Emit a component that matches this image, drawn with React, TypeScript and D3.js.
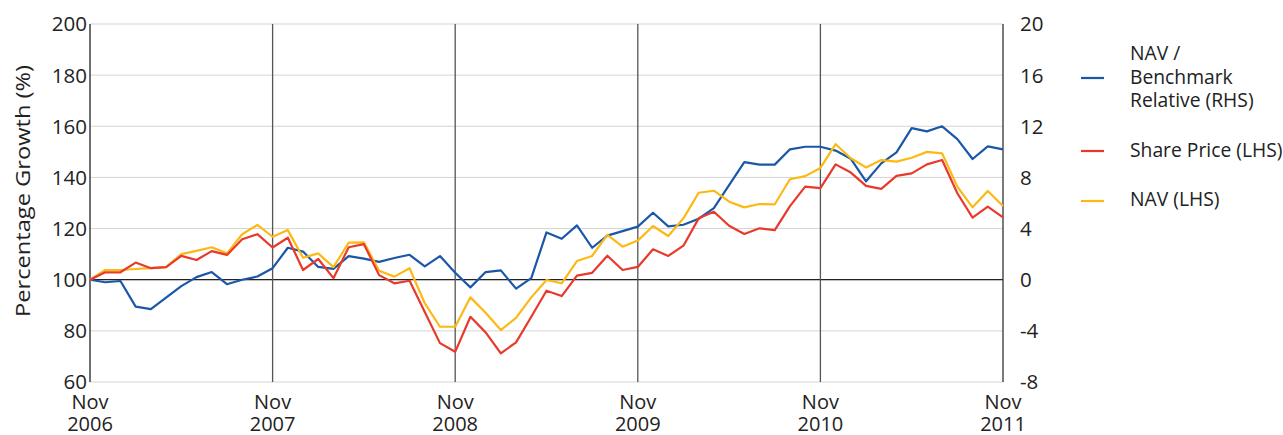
import React from "react";
import * as d3 from "d3";

const xLabels = ["Nov\n2006", "Nov\n2007", "Nov\n2008", "Nov\n2009", "Nov\n2010", "Nov\n2011"];
const leftTicks = [60, 80, 100, 120, 140, 160, 180, 200];
const rightTicks = [-8, -4, 0, 4, 8, 12, 16, 20];

// Monthly values, Nov 2006 .. Nov 2011 (61 points)
const relative = [
  0, -0.2, -0.1, -2.1, -2.3, -1.4, -0.5, 0.2, 0.6, -0.35, 0, 0.25, 0.9,
  2.5, 2.2, 1.0, 0.85, 1.85, 1.65, 1.4, 1.7, 1.95, 1.05, 1.85, 0.55,
  -0.6, 0.6, 0.73, -0.7, 0.13, 3.7, 3.2, 4.25, 2.5, 3.45, 3.8, 4.15,
  5.24, 4.17, 4.3, 4.77, 5.6, 7.4, 9.2, 9.0, 9.0, 10.2, 10.4, 10.4,
  10.1, 9.46, 7.7, 9.1, 9.96, 11.86, 11.6, 12.0, 11.0, 9.44, 10.43, 10.2,
];
const sharePrice = [
  100, 102.9, 102.9, 106.7, 104.5, 104.9, 109.3, 107.7, 111.2, 109.7, 115.8, 117.8, 112.6,
  116.4, 103.8, 108.1, 100.6, 112.7, 113.9, 101.8, 98.6, 99.6, 87.4, 75.2, 71.8,
  85.5, 79.4, 71.2, 75.5, 85.5, 95.7, 93.6, 101.6, 102.7, 109.4, 103.8, 105.0,
  111.9, 109.3, 113.3, 124, 126.6, 121.1, 117.9, 120.1, 119.4, 128.8, 136.4, 135.8,
  145.1, 141.9, 136.7, 135.5, 140.6, 141.6, 145.1, 146.8, 133.8, 124.3, 128.6, 124.4,
];
const nav = [
  100, 103.8, 103.8, 104.2, 104.5, 104.9, 110, 111.3, 112.7, 110.3, 117.8, 121.4, 116.8,
  119.4, 108.6, 110.3, 104.9, 114.5, 114.6, 103.5, 101.2, 104.5, 90.8, 81.6, 81.6,
  93.1, 87.1, 80.3, 85.1, 93.1, 99.9, 98.6, 107.3, 109.3, 117.5, 112.9, 115.3,
  121, 117.1, 124, 134, 134.8, 130.5, 128.3, 129.6, 129.5, 139.3, 140.5, 143.7,
  153, 147.5, 143.9, 146.8, 146.2, 147.7, 150, 149.4, 136.4, 128.3, 134.7, 128.8,
];

const seriesNames = ["NAV /\nBenchmark\nRelative (RHS)", "Share Price (LHS)", "NAV (LHS)"];

const BLUE = "#1b57a8";
const RED = "#e8392b";
const YELLOW = "#fdb913";
const FONT = "'Open Sans', sans-serif";

export default function App() {
  const W = 1283, H = 435;
  const left = 90, right = 1003, top = 24, bottom = 382;
  const x = d3.scaleLinear().domain([0, 60]).range([left, right]);
  const yL = d3.scaleLinear().domain([60, 200]).range([bottom, top]);
  const yR = d3.scaleLinear().domain([-8, 20]).range([bottom, top]);

  const lineL = d3.line<number>().x((_, i) => x(i)).y((d) => yL(d));
  const lineR = d3.line<number>().x((_, i) => x(i)).y((d) => yR(d));

  const legendY = [78, 151, 201];
  const colors = [BLUE, RED, YELLOW];

  return (
    <svg width={W} height={H} style={{ position: "absolute", left: 0, top: 0, background: "#fff" }} fontFamily={FONT}>
      {leftTicks.map((t) => (
        <line key={"g" + t} x1={left} x2={right} y1={yL(t)} y2={yL(t)} stroke="#d4d4d4" strokeWidth={1} />
      ))}
      <line x1={left} x2={right} y1={yL(100)} y2={yL(100)} stroke="#222" strokeWidth={1.2} />
      {xLabels.map((_, i) =>
        i > 0 && i < 5 ? (
          <line key={"v" + i} x1={x(i * 12)} x2={x(i * 12)} y1={top} y2={bottom} stroke="#555" strokeWidth={1.3} />
        ) : null
      )}
      <line x1={left} x2={left} y1={top} y2={bottom} stroke="#222" strokeWidth={1.3} />
      <line x1={right} x2={right} y1={top} y2={bottom} stroke="#333" strokeWidth={1.3} />

      <path d={lineR(relative) || ""} fill="none" stroke={BLUE} strokeWidth={2.2} strokeLinejoin="round" />
      <path d={lineL(nav) || ""} fill="none" stroke={YELLOW} strokeWidth={2.2} strokeLinejoin="round" />
      <path d={lineL(sharePrice) || ""} fill="none" stroke={RED} strokeWidth={2.2} strokeLinejoin="round" />

      {leftTicks.map((t) => (
        <text key={"l" + t} x={87} y={yL(t)} dy="0.36em" textAnchor="end" fontSize={20.5} fill="#222">
          {t}
        </text>
      ))}
      {rightTicks.map((t) => (
        <text key={"r" + t} x={1020} y={yR(t)} dy="0.36em" textAnchor="start" fontSize={20.5} fill="#222">
          {t}
        </text>
      ))}
      {xLabels.map((lab, i) => {
        const parts = lab.split("\n");
        return (
          <text key={"x" + i} x={x(i * 12)} textAnchor="middle" fontSize={20} fill="#222">
            <tspan x={x(i * 12)} y={409}>{parts[0]}</tspan>
            <tspan x={x(i * 12)} y={430.5}>{parts[1]}</tspan>
          </text>
        );
      })}
      <text transform={`translate(30,191) rotate(-90)`} textAnchor="middle" fontSize={20} fill="#222"
        textLength={252} lengthAdjust="spacingAndGlyphs">
        Percentage Growth (%)
      </text>

      {seriesNames.map((name, k) => {
        const lines = name.split("\n");
        const baseY = k === 0 ? 60 : k === 1 ? 157 : 206;
        return (
          <g key={"lg" + k}>
            <line x1={1081} x2={1104} y1={legendY[k]} y2={legendY[k]} stroke={colors[k]} strokeWidth={2.2} />
            <text fontSize={19.3} fill="#222">
              {lines.map((ln, j) => (
                <tspan key={j} x={1130} y={baseY + j * 23.7}>{ln}</tspan>
              ))}
            </text>
          </g>
        );
      })}
    </svg>
  );
}
